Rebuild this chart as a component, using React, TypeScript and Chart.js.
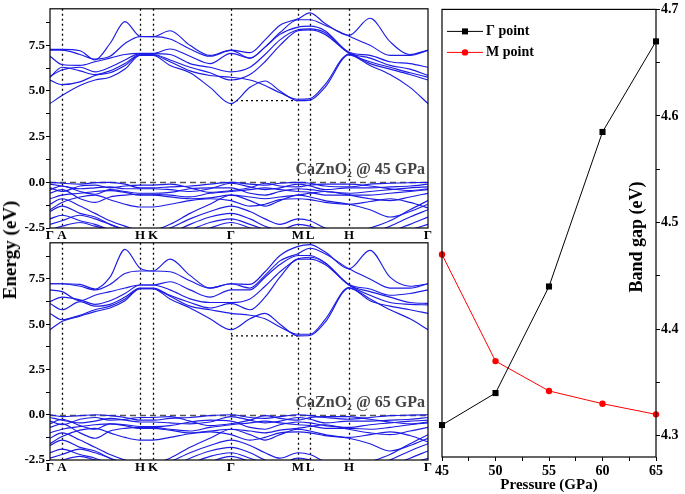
import React, { useEffect, useRef } from "react";
import { Chart, registerables } from "chart.js";

Chart.register(...registerables);

const SERIF = "'Liberation Serif', 'DejaVu Serif', serif";
const BLUE = "rgb(28,28,228)";

// k-path sample positions (distance along the path) and the high-symmetry labels
const kPath = [0, 12, 30, 45, 60, 75, 90, 103, 120, 140, 160, 181, 200, 215, 230, 248, 260, 275, 299, 320, 340, 360, 378];
const kLabelPos = [0, 12, 90, 103, 181, 248, 260, 299, 378];
const kLabels = ["Γ", "A", "H", "K", "Γ", "M", "L", "H", "Γ"];
const energyTicks = [-2.5, -1.25, 0, 1.25, 2.5, 3.75, 5, 6.25, 7.5, 8.75];

// CaZnO2 @ 45 GPa — conduction bands (eV)
const cb45 = [
  [4.31, 4.75, 5.3, 5.6, 5.75, 6.2, 6.95, 6.95, 6.4, 6.0, 5.2, 4.31, 5.2, 5.55, 5.0, 4.47, 4.5, 5.2, 6.98, 6.4, 5.9, 5.2, 4.31],
  [5.6, 5.35, 5.5, 5.85, 6.0, 6.4, 6.97, 6.97, 6.6, 6.1, 5.85, 5.75, 5.6, 5.3, 4.9, 4.55, 4.58, 5.35, 7.02, 6.5, 6.2, 5.9, 5.6],
  [5.75, 6.3, 6.1, 5.9, 6.1, 6.5, 7.0, 7.0, 6.7, 6.3, 6.0, 5.6, 5.9, 6.6, 7.5, 8.3, 8.35, 8.1, 7.06, 6.6, 6.3, 6.0, 5.75],
  [5.8, 6.15, 6.3, 6.05, 6.3, 6.7, 7.05, 7.05, 7.0, 6.5, 6.3, 6.05, 6.3, 7.0, 7.8, 8.35, 8.4, 8.2, 7.1, 6.8, 6.4, 6.2, 5.85],
  [6.9, 6.45, 6.4, 6.6, 6.8, 7.0, 7.06, 7.06, 7.3, 6.9, 6.5, 7.06, 6.8, 7.4, 8.1, 8.5, 8.55, 8.3, 7.12, 6.95, 6.6, 6.5, 6.3],
  [7.24, 7.24, 7.0, 6.75, 6.9, 7.6, 7.98, 7.98, 7.85, 7.3, 6.9, 7.22, 6.8, 7.4, 8.2, 8.9, 8.9, 8.6, 8.0, 7.5, 6.95, 6.95, 7.22],
  [7.28, 7.28, 7.2, 6.7, 7.6, 8.8, 8.0, 7.98, 8.3, 7.5, 6.95, 7.24, 7.1, 7.8, 8.6, 8.95, 9.28, 8.7, 8.05, 8.98, 7.7, 7.0, 7.24],
];
// CaZnO2 @ 45 GPa — valence bands (eV)
const vb45 = [
  [0, -0.05, -0.1, -0.02, 0, -0.1, -0.3, -0.3, -0.25, -0.2, -0.1, 0, -0.1, -0.15, -0.05, 0, -0.05, -0.2, -0.25, -0.1, -0.05, -0.02, 0],
  [-0.1, -0.2, -0.35, -0.3, -0.25, -0.35, -0.35, -0.35, -0.4, -0.5, -0.35, -0.05, -0.25, -0.4, -0.3, -0.1, -0.2, -0.4, -0.3, -0.3, -0.25, -0.2, -0.1],
  [-0.3, -0.5, -0.2, -0.15, -0.3, -0.2, -0.15, -0.15, -0.1, -0.3, -0.55, -0.45, -0.3, -0.05, -0.2, -0.25, -0.15, -0.1, -0.1, -0.2, -0.35, -0.45, -0.35],
  [-0.4, -0.2, -0.5, -0.65, -0.4, -0.5, -0.6, -0.6, -0.55, -0.35, -0.3, -0.3, -0.6, -0.7, -0.5, -0.35, -0.4, -0.5, -0.6, -0.5, -0.4, -0.3, -0.25],
  [-0.6, -0.4, -0.9, -1.1, -0.8, -0.7, -0.65, -0.65, -0.7, -0.8, -0.6, -0.5, -0.4, -0.3, -0.4, -0.5, -0.55, -0.7, -0.7, -0.7, -0.6, -0.5, -0.4],
  [-0.9, -0.7, -0.6, -0.5, -0.45, -0.55, -0.7, -0.7, -0.8, -0.9, -0.85, -0.7, -0.8, -0.9, -0.8, -0.7, -0.6, -0.5, -0.7, -0.9, -1.0, -0.8, -0.6],
  [-1.5, -1.1, -0.8, -0.7, -0.95, -1.2, -1.35, -1.35, -1.2, -1.0, -0.9, -1.0, -1.3, -1.2, -0.95, -0.9, -0.95, -1.1, -1.2, -1.05, -0.9, -1.1, -1.4],
  [-1.2, -0.9, -1.3, -1.7, -2.1, -2.4, -2.6, -2.6, -2.3, -1.7, -1.2, -0.7, -1.0, -1.3, -1.0, -0.7, -0.8, -1.0, -1.2, -1.5, -1.9, -1.6, -1.2],
  [-1.6, -1.3, -1.7, -1.9, -2.3, -2.6, -2.8, -2.8, -2.5, -2.0, -1.6, -1.3, -1.6, -2.0, -2.3, -2.0, -2.1, -2.5, -2.8, -2.5, -2.1, -1.5, -1.0],
  [-2.0, -1.8, -2.1, -2.3, -2.6, -2.8, -3.0, -3.0, -2.8, -2.3, -1.9, -1.7, -2.0, -2.4, -2.6, -2.3, -2.4, -2.7, -3.0, -2.8, -2.4, -1.9, -1.5],
  [-2.3, -2.1, -1.8, -2.0, -2.3, -2.6, -2.9, -2.9, -2.9, -2.6, -2.2, -2.0, -2.3, -2.6, -2.9, -2.6, -2.7, -2.9, -3.0, -3.0, -2.7, -2.3, -1.9],
  [-2.6, -2.4, -2.2, -2.4, -2.6, -2.8, -3.0, -3.0, -3.0, -2.8, -2.5, -2.2, -2.5, -2.8, -3.0, -2.8, -2.9, -3.0, -3.0, -3.0, -2.9, -2.6, -2.3],
];

// CaZnO2 @ 65 GPa — conduction bands (eV)
const cb65 = [
  [4.7, 5.15, 5.45, 5.7, 5.9, 6.3, 6.97, 6.97, 6.4, 5.9, 5.3, 4.7, 5.3, 5.6, 5.0, 4.36, 4.38, 5.1, 7.0, 6.4, 5.8, 5.3, 4.7],
  [5.6, 5.25, 5.5, 5.8, 6.0, 6.4, 6.97, 6.97, 6.55, 6.0, 5.8, 5.6, 5.5, 5.3, 4.85, 4.45, 4.45, 5.25, 7.02, 6.3, 6.0, 5.8, 5.6],
  [6.15, 5.8, 6.25, 6.0, 6.1, 6.5, 7.0, 7.0, 6.6, 6.2, 5.9, 6.15, 5.8, 6.5, 7.6, 8.6, 8.6, 8.3, 7.17, 6.6, 6.2, 6.1, 6.07],
  [6.25, 6.5, 6.35, 6.1, 6.3, 6.7, 7.17, 7.17, 6.9, 6.4, 6.2, 6.2, 6.4, 7.1, 7.9, 8.6, 8.7, 8.4, 7.17, 6.8, 6.5, 6.2, 6.15],
  [6.9, 6.8, 6.3, 6.6, 6.8, 7.0, 7.17, 7.17, 7.35, 6.9, 6.5, 6.9, 6.9, 7.6, 8.3, 8.8, 8.8, 8.4, 7.2, 6.95, 6.6, 6.7, 6.9],
  [7.24, 7.24, 7.1, 6.9, 7.2, 7.8, 7.94, 7.94, 7.9, 7.4, 7.0, 7.24, 7.0, 7.7, 8.5, 8.9, 9.2, 8.9, 8.06, 7.5, 7.0, 7.0, 7.24],
  [7.24, 7.24, 7.2, 6.95, 7.6, 9.14, 8.1, 7.94, 8.6, 7.7, 7.0, 7.24, 7.2, 7.9, 8.8, 9.3, 9.4, 9.0, 8.06, 9.08, 7.6, 7.1, 7.24],
];
// CaZnO2 @ 65 GPa — valence bands (eV)
const vb65 = [
  [0, -0.1, -0.05, 0, -0.05, -0.15, -0.3, -0.3, -0.2, -0.15, -0.05, 0, -0.15, -0.2, -0.1, 0, -0.05, -0.15, -0.25, -0.15, -0.05, -0.02, 0],
  [-0.15, -0.3, -0.45, -0.35, -0.2, -0.3, -0.4, -0.4, -0.45, -0.5, -0.4, -0.1, -0.3, -0.45, -0.35, -0.15, -0.25, -0.45, -0.35, -0.35, -0.3, -0.25, -0.15],
  [-0.35, -0.55, -0.25, -0.15, -0.3, -0.25, -0.15, -0.15, -0.1, -0.35, -0.6, -0.5, -0.3, -0.05, -0.2, -0.3, -0.15, -0.1, -0.1, -0.25, -0.4, -0.5, -0.4],
  [-0.5, -0.25, -0.6, -0.8, -0.5, -0.55, -0.65, -0.65, -0.6, -0.4, -0.3, -0.35, -0.7, -0.8, -0.55, -0.4, -0.45, -0.6, -0.7, -0.55, -0.45, -0.35, -0.3],
  [-0.7, -0.5, -1.0, -1.3, -0.9, -0.75, -0.7, -0.7, -0.8, -0.9, -0.7, -0.55, -0.45, -0.35, -0.45, -0.55, -0.6, -0.75, -0.75, -0.8, -0.7, -0.55, -0.45],
  [-1.0, -0.8, -0.65, -0.55, -0.5, -0.6, -0.75, -0.75, -0.85, -1.0, -0.9, -0.8, -0.9, -1.0, -0.85, -0.75, -0.65, -0.55, -0.8, -1.0, -1.1, -0.9, -0.7],
  [-1.6, -1.2, -0.85, -0.75, -1.0, -1.25, -1.4, -1.4, -1.25, -1.05, -0.95, -1.1, -1.4, -1.25, -1.0, -0.95, -1.0, -1.15, -1.25, -1.1, -0.95, -1.15, -1.5],
  [-1.3, -1.0, -1.4, -1.8, -2.2, -2.5, -2.7, -2.7, -2.4, -1.8, -1.3, -0.8, -1.1, -1.4, -1.1, -0.8, -0.9, -1.1, -1.3, -1.6, -2.0, -1.7, -1.3],
  [-1.7, -1.4, -1.8, -2.0, -2.4, -2.7, -2.9, -2.9, -2.6, -2.1, -1.7, -1.4, -1.7, -2.1, -2.4, -2.1, -2.2, -2.6, -2.9, -2.6, -2.2, -1.6, -1.1],
  [-2.1, -1.9, -2.2, -2.4, -2.7, -2.9, -3.0, -3.0, -2.9, -2.4, -2.0, -1.8, -2.1, -2.5, -2.7, -2.4, -2.5, -2.8, -3.0, -2.9, -2.5, -2.0, -1.6],
  [-2.4, -2.2, -1.9, -2.1, -2.4, -2.7, -3.0, -3.0, -3.0, -2.7, -2.3, -2.1, -2.4, -2.7, -3.0, -2.7, -2.8, -3.0, -3.0, -3.0, -2.8, -2.4, -2.0],
  [-2.7, -2.5, -2.3, -2.5, -2.7, -2.9, -3.0, -3.0, -3.0, -2.9, -2.6, -2.3, -2.6, -2.9, -3.0, -2.9, -3.0, -3.0, -3.0, -3.0, -3.0, -2.7, -2.4],
];

const gapLevel45 = 4.47;
const gapLevel65 = 4.36;

// Band gap vs pressure
const pressure = [45, 50, 55, 60, 65];
const gapGamma = [4.31, 4.34, 4.44, 4.585, 4.67];
const gapM = [4.47, 4.37, 4.342, 4.33, 4.32];
const pressureTicks = [45, 47.5, 50, 52.5, 55, 57.5, 60, 62.5, 65];
const gapTicks = [4.3, 4.35, 4.4, 4.45, 4.5, 4.55, 4.6, 4.65, 4.7];

type BandProps = { cb: number[][]; vb: number[][]; gap: number; label: string; top: number; height: number };

function BandPanel({ cb, vb, gap, label, top, height }: BandProps) {
  const ref = useRef<HTMLCanvasElement | null>(null);
  useEffect(() => {
    if (!ref.current) return;
    const toData = (arr: number[]) => arr.map((e, i) => ({ x: kPath[i], y: e }));
    const datasets = [...cb, ...vb].map((arr) => ({
      data: toData(arr),
      borderColor: BLUE,
      borderWidth: 1.15,
      pointRadius: 0,
      fill: false,
      cubicInterpolationMode: "monotone" as const,
    }));
    const decor = {
      id: "bandDecor",
      beforeDatasetsDraw(chart: any) {
        const { ctx, chartArea: a, scales } = chart;
        const x = scales.x, y = scales.y;
        ctx.save();
        ctx.strokeStyle = "#000";
        ctx.lineWidth = 1.3;
        ctx.setLineDash([2, 3]);
        for (const k of kLabelPos.slice(1, -1)) {
          const px = Math.round(x.getPixelForValue(k)) + 0.5;
          ctx.beginPath();
          ctx.moveTo(px, a.top);
          ctx.lineTo(px, a.bottom);
          ctx.stroke();
        }
        const gy = y.getPixelForValue(gap);
        ctx.beginPath();
        ctx.moveTo(x.getPixelForValue(181), gy);
        ctx.lineTo(x.getPixelForValue(248), gy);
        ctx.stroke();
        const zy = Math.round(y.getPixelForValue(0)) + 0.5;
        ctx.strokeStyle = "#555";
        ctx.lineWidth = 1.4;
        ctx.setLineDash([6, 4]);
        ctx.beginPath();
        ctx.moveTo(a.left, zy);
        ctx.lineTo(a.right, zy);
        ctx.stroke();
        ctx.restore();
      },
      afterDraw(chart: any) {
        const { ctx, chartArea: a, scales } = chart;
        ctx.save();
        ctx.strokeStyle = "#000";
        ctx.lineWidth = 1.2;
        ctx.setLineDash([]);
        ctx.strokeRect(a.left, a.top, a.right - a.left, a.bottom - a.top);
        ctx.fillStyle = "#444";
        ctx.font = `bold 16px ${SERIF}`;
        ctx.textAlign = "right";
        ctx.textBaseline = "alphabetic";
        ctx.fillText(label, a.right - 3, scales.y.getPixelForValue(0) - 8);
        ctx.restore();
      },
    };
    const chart = new Chart(ref.current, {
      type: "line",
      data: { datasets },
      options: {
        responsive: false,
        animation: false,
        layout: { padding: { top: 8, right: 6, left: 0, bottom: 0 } },
        plugins: { legend: { display: false }, tooltip: { enabled: false } },
        scales: {
          x: {
            type: "linear",
            min: 0,
            max: 378,
            afterBuildTicks: (s: any) => {
              s.ticks = kLabelPos.map((v) => ({ value: v }));
            },
            afterFit: (s: any) => {
              s.height = 17;
            },
            grid: { display: false, drawTicks: false, tickLength: 0 },
            border: { display: false },
            ticks: {
              autoSkip: false,
              maxRotation: 0,
              padding: 0,
              color: "#000",
              font: { family: SERIF, size: 13, weight: "bold" },
              callback: (_v: any, i: number) => kLabels[i],
            },
          },
          y: {
            min: -2.5,
            max: 9.5,
            afterBuildTicks: (s: any) => {
              s.ticks = energyTicks.map((v) => ({ value: v }));
            },
            afterFit: (s: any) => {
              s.width = 50;
            },
            grid: { drawOnChartArea: false, drawTicks: true, tickLength: 4, color: "#000" },
            border: { display: false },
            ticks: {
              padding: 1,
              color: "#000",
              font: { family: SERIF, size: 13, weight: "bold" },
              callback: (v: any) => {
                const r = v / 2.5;
                return Math.abs(r - Math.round(r)) < 1e-6 ? Number(v).toFixed(1) : "";
              },
            },
          },
        },
      } as any,
      plugins: [decor],
    });
    return () => chart.destroy();
  }, []);
  return (
    <canvas
      ref={ref}
      width={434}
      height={height}
      style={{ position: "absolute", left: 0, top, width: 434, height }}
    />
  );
}

function GapChart() {
  const ref = useRef<HTMLCanvasElement | null>(null);
  useEffect(() => {
    if (!ref.current) return;
    const decor = {
      id: "gapDecor",
      afterDraw(chart: any) {
        const { ctx, chartArea: a } = chart;
        ctx.save();
        ctx.strokeStyle = "#000";
        ctx.lineWidth = 1.2;
        ctx.strokeRect(a.left, a.top, a.right - a.left, a.bottom - a.top);
        // legend
        const items = [
          { label: "Γ point", color: "#000", rect: true },
          { label: "M point", color: "#f00", rect: false },
        ];
        items.forEach((it, i) => {
          const yy = a.top + 22 + i * 21;
          ctx.strokeStyle = it.color;
          ctx.lineWidth = 1;
          ctx.beginPath();
          ctx.moveTo(a.left + 5, yy);
          ctx.lineTo(a.left + 41, yy);
          ctx.stroke();
          ctx.fillStyle = it.color;
          const cx = a.left + 23;
          if (it.rect) {
            ctx.fillRect(cx - 3, yy - 3, 6, 6);
          } else {
            ctx.beginPath();
            ctx.arc(cx, yy, 3.2, 0, Math.PI * 2);
            ctx.fill();
          }
          ctx.fillStyle = "#000";
          ctx.font = `bold 14px ${SERIF}`;
          ctx.textAlign = "left";
          ctx.textBaseline = "middle";
          ctx.fillText(it.label, a.left + 44, yy);
        });
        // y title inside plot
        ctx.translate(a.right - 19, 237);
        ctx.rotate(-Math.PI / 2);
        ctx.font = `bold 18px ${SERIF}`;
        ctx.textAlign = "center";
        ctx.textBaseline = "middle";
        ctx.fillStyle = "#000";
        ctx.fillText("Band gap (eV)", 0, 0);
        ctx.restore();
      },
    };
    const chart = new Chart(ref.current, {
      type: "line",
      data: {
        datasets: [
          {
            label: "Γ point",
            data: pressure.map((p, i) => ({ x: p, y: gapGamma[i] })),
            borderColor: "#000",
            backgroundColor: "#000",
            borderWidth: 1,
            pointStyle: "rect",
            pointRadius: 4.3,
            pointBorderWidth: 0,
          },
          {
            label: "M point",
            data: pressure.map((p, i) => ({ x: p, y: gapM[i] })),
            borderColor: "#f00",
            backgroundColor: "#f00",
            borderWidth: 1,
            pointStyle: "circle",
            pointRadius: 3.2,
            pointBorderWidth: 0,
          },
        ],
      },
      options: {
        responsive: false,
        animation: false,
        clip: false,
        layout: { padding: { top: 8, right: 0, left: 10, bottom: 0 } },
        plugins: { legend: { display: false }, tooltip: { enabled: false } },
        scales: {
          x: {
            type: "linear",
            min: 45,
            max: 65,
            afterBuildTicks: (s: any) => {
              s.ticks = pressureTicks.map((v) => ({ value: v }));
            },
            afterFit: (s: any) => {
              s.height = 37;
            },
            grid: { drawOnChartArea: false, drawTicks: true, tickLength: 4, color: "#000" },
            border: { display: false },
            ticks: {
              autoSkip: false,
              maxRotation: 0,
              padding: 2,
              color: "#000",
              font: { family: SERIF, size: 14, weight: "bold" },
              callback: (v: any) => (Number(v) % 5 === 0 ? String(v) : ""),
            },
            title: {
              display: true,
              text: "Pressure (GPa)",
              color: "#000",
              padding: 0,
              font: { family: SERIF, size: 15, weight: "bold" },
            },
          },
          y: {
            position: "right",
            min: 4.28,
            max: 4.7,
            afterBuildTicks: (s: any) => {
              s.ticks = gapTicks.map((v) => ({ value: v }));
            },
            afterFit: (s: any) => {
              s.width = 29;
            },
            grid: { drawOnChartArea: false, drawTicks: true, tickLength: 4, color: "#000" },
            border: { display: false },
            ticks: {
              padding: 1,
              color: "#000",
              font: { family: SERIF, size: 14, weight: "bold" },
              callback: (v: any) => {
                const n = Math.round(Number(v) * 100);
                return n % 10 === 0 ? (n / 100).toFixed(1) : "";
              },
            },
          },
        },
      } as any,
      plugins: [decor],
    });
    return () => chart.destroy();
  }, []);
  return (
    <canvas
      ref={ref}
      width={253}
      height={494}
      style={{ position: "absolute", left: 432, top: 0, width: 253, height: 494 }}
    />
  );
}

export default function App() {
  return (
    <div style={{ position: "absolute", left: 0, top: 0, width: 685, height: 494, background: "#fff", overflow: "hidden" }}>
      <BandPanel cb={cb45} vb={vb45} gap={gapLevel45} label="CaZnO₂ @ 45 GPa" top={0} height={245} />
      <BandPanel cb={cb65} vb={vb65} gap={gapLevel65} label="CaZnO₂ @ 65 GPa" top={234} height={243} />
      <GapChart />
      <div
        style={{
          position: "absolute",
          left: 10,
          top: 250,
          transform: "translate(-50%, -50%) rotate(-90deg)",
          whiteSpace: "nowrap",
          fontFamily: SERIF,
          fontWeight: "bold",
          fontSize: 19,
          color: "#000",
        }}
      >
        Energy (eV)
      </div>
    </div>
  );
}
